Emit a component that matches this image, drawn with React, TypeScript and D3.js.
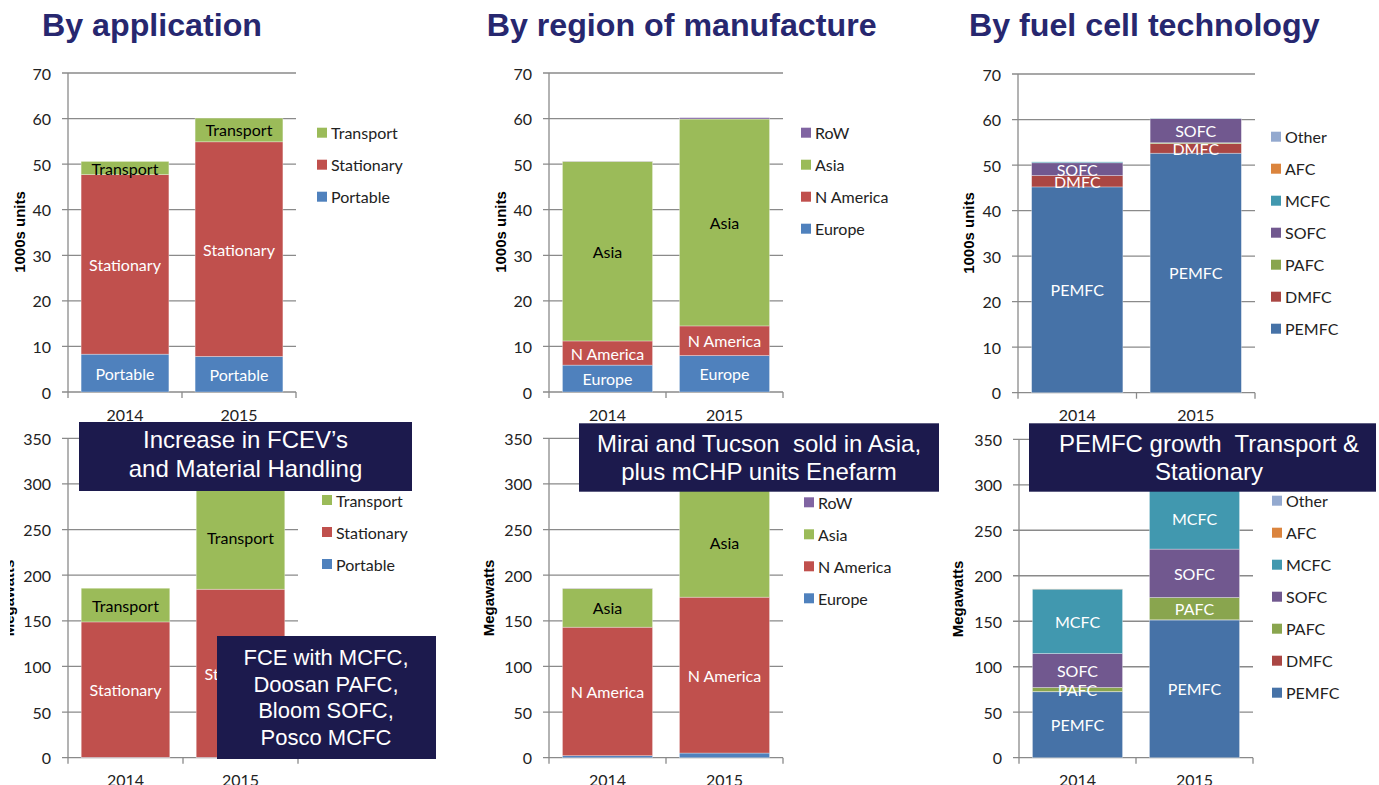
import React from "react";
import * as d3 from "d3";

const years = ["2014", "2015"];

// ---- By application ----
const appSeriesNames = ["Portable", "Stationary", "Transport"];
const appUnitsPortable = [8.3, 7.8];
const appUnitsStationary = [39.4, 47.1];
const appUnitsTransport = [2.9, 5.2];
const appMWPortable = [0.4, 0.4];
const appMWStationary = [148.4, 184.2];
const appMWTransport = [36.9, 112.5];

// ---- By region of manufacture ----
const regionSeriesNames = ["Europe", "N America", "Asia", "RoW"];
const regionUnitsEurope = [5.9, 8.0];
const regionUnitsNAmerica = [5.3, 6.5];
const regionUnitsAsia = [39.4, 45.4];
const regionUnitsRoW = [0.05, 0.3];
const regionMWEurope = [2.2, 5.1];
const regionMWNAmerica = [140.8, 170.8];
const regionMWAsia = [42.3, 120.5];
const regionMWRoW = [0.3, 0.5];

// ---- By fuel cell technology ----
const techSeriesNames = ["PEMFC", "DMFC", "PAFC", "SOFC", "MCFC", "AFC", "Other"];
const techUnitsPEMFC = [45.2, 52.6];
const techUnitsDMFC = [2.5, 2.1];
const techUnitsPAFC = [0.0, 0.2];
const techUnitsSOFC = [2.8, 5.3];
const techUnitsMCFC = [0.2, 0.05];
const techUnitsAFC = [0, 0];
const techUnitsOther = [0, 0];
const techMWPEMFC = [72.5, 151.4];
const techMWDMFC = [0.2, 0.2];
const techMWPAFC = [4.5, 24.5];
const techMWSOFC = [37.3, 53.2];
const techMWMCFC = [70.8, 67.3];
const techMWAFC = [0.2, 0.2];
const techMWOther = [0, 0];

const titles = ["By application", "By region of manufacture", "By fuel cell technology"];
const unitsAxisTitle = "1000s units";
const mwAxisTitle = "Megawatts";

const note1 = ["Increase in FCEV\u2019s", "and Material Handling"];
const note2 = ["FCE with MCFC,", "Doosan PAFC,", "Bloom SOFC,", "Posco MCFC"];
const note3 = ["Mirai and Tucson  sold in Asia,", "plus mCHP units Enefarm"];
const note4 = ["PEMFC growth  Transport &", "Stationary"];

const C = {
  blue: "#4f81bd",
  red: "#c0504d",
  green: "#9bbb59",
  purple: "#8064a2",
  pemfc: "#4672a7",
  dmfc: "#aa4643",
  pafc: "#89a54e",
  sofc: "#71588f",
  mcfc: "#4198af",
  afc: "#db843d",
  other: "#93a9cf",
};

type Series = { name: string; values: number[]; color: string; labelColor: string };

const appColors = [C.blue, C.red, C.green];
const appLabelColors = ["#fff", "#fff", "#000"];
const regionColors = [C.blue, C.red, C.green, C.purple];
const regionLabelColors = ["#fff", "#fff", "#000", "#fff"];
const techColors = [C.pemfc, C.dmfc, C.pafc, C.sofc, C.mcfc, C.afc, C.other];

function mk(names: string[], vals: number[][], colors: string[], lcols?: string[]): Series[] {
  return names.map((n, i) => ({ name: n, values: vals[i], color: colors[i], labelColor: lcols ? lcols[i] : "#fff" }));
}

type PanelCfg = {
  series: Series[];
  yMax: number;
  yStep: number;
  yTitle: string;
  left: number;
  right: number;
  top: number;
  bottom: number;
  legendX: number;
  legendY: number;
  labelMin: number;
  yTitleX: number;
  yTitleY: number;
  xLabelY: number;
  clipId?: string;
};

const panels: PanelCfg[] = [
  {
    series: mk(appSeriesNames, [appUnitsPortable, appUnitsStationary, appUnitsTransport], appColors, appLabelColors),
    yMax: 70, yStep: 10, yTitle: unitsAxisTitle,
    left: 68, right: 296, top: 73, bottom: 392,
    legendX: 317, legendY: 132.7, labelMin: 1, yTitleX: 25, yTitleY: 232, xLabelY: 421,
  },
  {
    series: mk(regionSeriesNames, [regionUnitsEurope, regionUnitsNAmerica, regionUnitsAsia, regionUnitsRoW], regionColors, regionLabelColors),
    yMax: 70, yStep: 10, yTitle: unitsAxisTitle,
    left: 549, right: 783, top: 73, bottom: 392,
    legendX: 801, legendY: 132.7, labelMin: 1, yTitleX: 506, yTitleY: 232, xLabelY: 421,
  },
  {
    series: mk(techSeriesNames, [techUnitsPEMFC, techUnitsDMFC, techUnitsPAFC, techUnitsSOFC, techUnitsMCFC, techUnitsAFC, techUnitsOther], techColors),
    yMax: 70, yStep: 10, yTitle: unitsAxisTitle,
    left: 1018, right: 1255, top: 74, bottom: 392.7,
    legendX: 1271, legendY: 136.7, labelMin: 1, yTitleX: 974, yTitleY: 233, xLabelY: 421,
  },
  {
    series: mk(appSeriesNames, [appMWPortable, appMWStationary, appMWTransport], appColors, appLabelColors),
    yMax: 350, yStep: 50, yTitle: mwAxisTitle,
    left: 68, right: 298, top: 438.3, bottom: 757.7,
    legendX: 322, legendY: 500, labelMin: 5, yTitleX: 14, yTitleY: 598, xLabelY: 786, clipId: "clipLeft",
  },
  {
    series: mk(regionSeriesNames, [regionMWEurope, regionMWNAmerica, regionMWAsia, regionMWRoW], regionColors, regionLabelColors),
    yMax: 350, yStep: 50, yTitle: mwAxisTitle,
    left: 549, right: 783, top: 438.3, bottom: 757.7,
    legendX: 804, legendY: 502.3, labelMin: 6, yTitleX: 494, yTitleY: 598, xLabelY: 786,
  },
  {
    series: mk(techSeriesNames, [techMWPEMFC, techMWDMFC, techMWPAFC, techMWSOFC, techMWMCFC, techMWAFC, techMWOther], techColors),
    yMax: 350, yStep: 50, yTitle: mwAxisTitle,
    left: 1019, right: 1253, top: 439.3, bottom: 757.7,
    legendX: 1272, legendY: 500.7, labelMin: 3, yTitleX: 963, yTitleY: 599, xLabelY: 786,
  },
];

const GRID = "#8a8a8a";
const TEXT = "#222";
const LABEL_FONT = "Lato, 'Open Sans', sans-serif";
const ARIAL = "'Liberation Sans', Arial, sans-serif";

function Panel({ cfg }: { cfg: PanelCfg }) {
  const y = d3.scaleLinear().domain([0, cfg.yMax]).range([cfg.bottom, cfg.top]);
  const x = d3.scaleBand().domain(years).range([cfg.left, cfg.right]).paddingInner(0.23).paddingOuter(0.115);
  const ticks = d3.range(0, cfg.yMax + cfg.yStep / 2, cfg.yStep);
  const stack = d3
    .stack<number>()
    .keys(cfg.series.map((s) => s.name))
    .value((i, key) => cfg.series.find((s) => s.name === key)!.values[i])(years.map((_, i) => i));
  const step = (cfg.right - cfg.left) / years.length;
  const xTicks = d3.range(0, years.length + 1).map((i) => cfg.left + i * step);

  return (
    <g>
      {ticks.map((t) => (
        <g key={t}>
          <line x1={cfg.left - 6} x2={cfg.right} y1={y(t)} y2={y(t)} stroke={GRID} strokeWidth={1.3} />
          <text x={cfg.left - 17} y={y(t)} textAnchor="end" dominantBaseline="central" fontFamily={LABEL_FONT} fontSize={16} fill={TEXT}>
            {t}
          </text>
        </g>
      ))}
      <line x1={cfg.left} x2={cfg.left} y1={cfg.top} y2={cfg.bottom} stroke={GRID} strokeWidth={1.3} />
      {xTicks.map((tx, i) => (
        <line key={i} x1={tx} x2={tx} y1={cfg.bottom} y2={cfg.bottom + 6} stroke={GRID} strokeWidth={1.3} />
      ))}
      {stack.map((layer, si) => {
        const s = cfg.series[si];
        return (
          <g key={s.name}>
            {layer.map((d, i) => {
              const h = y(d[0]) - y(d[1]);
              if (h <= 0) return null;
              return (
                <rect
                  key={i}
                  x={x(years[i])!}
                  y={y(d[1])}
                  width={x.bandwidth()}
                  height={h}
                  fill={s.color}
                  stroke="#ffffff"
                  strokeOpacity={0.45}
                  strokeWidth={0.7}
                />
              );
            })}
          </g>
        );
      })}
      {stack.map((layer, si) => {
        const s = cfg.series[si];
        return (
          <g key={s.name + "-lbl"}>
            {layer.map((d, i) => {
              const v = d[1] - d[0];
              if (v < cfg.labelMin) return null;
              return (
                <text
                  key={i}
                  x={x(years[i])! + x.bandwidth() / 2}
                  y={y((d[0] + d[1]) / 2)}
                  textAnchor="middle"
                  dominantBaseline="central"
                  fontFamily={LABEL_FONT}
                  fontSize={16}
                  fill={s.labelColor}
                >
                  {s.name}
                </text>
              );
            })}
          </g>
        );
      })}
      {years.map((yr) => (
        <text key={yr} x={x(yr)! + x.bandwidth() / 2} y={cfg.xLabelY} textAnchor="middle" fontFamily={LABEL_FONT} fontSize={16} fill={TEXT}>
          {yr}
        </text>
      ))}
      {cfg.series
        .slice()
        .reverse()
        .map((s, i) => (
          <g key={s.name + "-leg"} transform={`translate(${cfg.legendX},${cfg.legendY + i * 32})`}>
            <rect x={0} y={-5} width={10} height={10} fill={s.color} />
            <text x={14} y={0} dominantBaseline="central" fontFamily={LABEL_FONT} fontSize={16} fill={TEXT}>
              {s.name}
            </text>
          </g>
        ))}
      <g clipPath={cfg.clipId ? `url(#${cfg.clipId})` : undefined}>
        <text
          transform={`translate(${cfg.yTitleX},${cfg.yTitleY}) rotate(-90)`}
          textAnchor="middle"
          fontFamily={ARIAL}
          fontWeight="bold"
          fontSize={15}
          fill="#000"
        >
          {cfg.yTitle}
        </text>
      </g>
    </g>
  );
}

type Note = { x: number; y: number; w: number; h: number; cx: number; lines: string[]; baselines: number[]; size: number };
const notes: Note[] = [
  { x: 79, y: 422, w: 333, h: 69, cx: 245.5, lines: note1, baselines: [448, 477], size: 24 },
  { x: 217, y: 636, w: 219, h: 123, cx: 326, lines: note2, baselines: [665, 691.7, 718.3, 744.5], size: 22 },
  { x: 579, y: 423.3, w: 360, h: 68.4, cx: 759, lines: note3, baselines: [451.7, 480], size: 24 },
  { x: 1029, y: 423.3, w: 347, h: 68.4, cx: 1209, lines: note4, baselines: [451.7, 480], size: 24 },
];

const titleX = [42, 486.7, 969];

export default function App() {
  return (
    <svg width={1379} height={785} style={{ position: "absolute", left: 0, top: 0, background: "#fff" }}>
      <defs>
        <clipPath id="clipLeft">
          <rect x={10} y={0} width={1379} height={785} />
        </clipPath>
      </defs>
      <rect x={0} y={0} width={1379} height={785} fill="#fff" />
      {titles.map((t, i) => (
        <text key={t} x={titleX[i]} y={35.5} fontFamily={ARIAL} fontWeight="bold" fontSize={32.2} fill="#27276f">
          {t}
        </text>
      ))}
      {panels.map((p, i) => (
        <Panel key={i} cfg={p} />
      ))}
      {notes.map((n, i) => (
        <g key={i}>
          <rect x={n.x} y={n.y} width={n.w} height={n.h} fill="#1c1a4d" />
          {n.lines.map((l, j) => (
            <text key={j} x={n.cx} y={n.baselines[j]} textAnchor="middle" fontFamily={ARIAL} fontSize={n.size} fill="#fff" style={{ whiteSpace: "pre" }}>
              {l}
            </text>
          ))}
        </g>
      ))}
    </svg>
  );
}
